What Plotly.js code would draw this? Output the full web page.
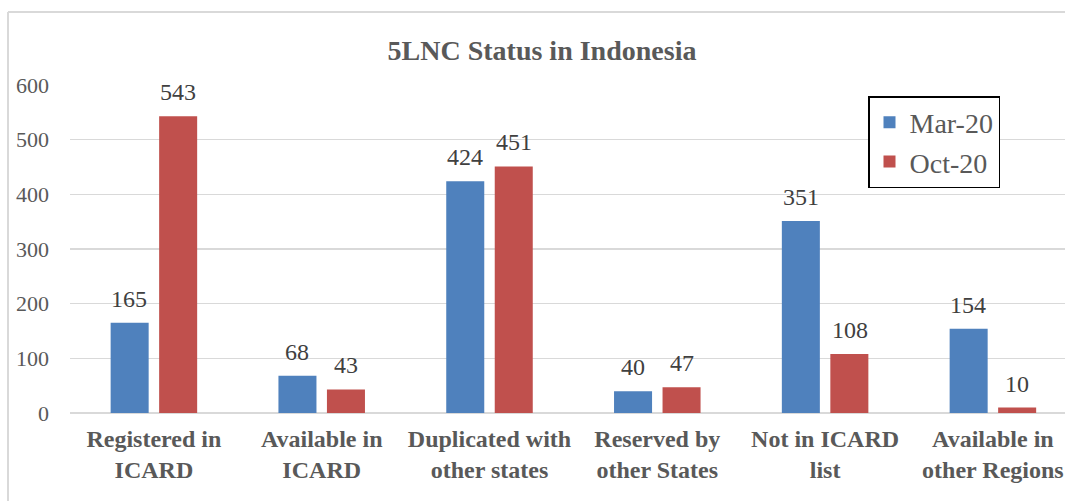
<!DOCTYPE html>
<html>
<head>
<meta charset="utf-8">
<script src="https://cdn.plot.ly/plotly-3.0.1.min.js"></script>
<style>
  html, body { margin: 0; padding: 0; background: #ffffff; }
  #chart { width: 1065px; height: 501px; }
</style>
</head>
<body>
<div id="chart"></div>
<script>
const categories = [
  "Registered in<br>ICARD",
  "Available in<br>ICARD",
  "Duplicated with<br>other states",
  "Reserved by<br>other States",
  "Not in ICARD<br>list",
  "Available in<br>other Regions"
];
const seriesNames = ["Mar-20", "Oct-20"];
const mar20 = [165, 68, 424, 40, 351, 154];
const oct20 = [543, 43, 451, 47, 108, 10];
const yTicks = [0, 100, 200, 300, 400, 500, 600];

const colors = ["#4F81BD", "#C0504D"];
const serif = "Liberation Serif";
const txtColor = "#595959";

const traces = [mar20, oct20].map((vals, i) => ({
  type: "bar",
  name: seriesNames[i],
  x: categories,
  y: vals,
  marker: { color: colors[i], line: { width: 0 } },
  hoverinfo: "skip"
}));

// data labels placed through the axis scales
const annotations = [];
[mar20, oct20].forEach((vals, i) => {
  vals.forEach((v, j) => {
    annotations.push({
      x: categories[j], y: v, xref: "x", yref: "y",
      text: String(v), showarrow: false,
      xanchor: "center", yanchor: "bottom",
      xshift: i === 0 ? -24.5 : 24.5, yshift: 9,
      font: { family: serif, size: 24, color: "#404040" }
    });
  });
});

const layout = {
  width: 1065, height: 501,
  margin: { l: 70, r: 0, t: 85, b: 88, pad: 0 },
  paper_bgcolor: "#ffffff", plot_bgcolor: "#ffffff",
  title: {
    text: "<b>5LNC Status in Indonesia</b>",
    font: { family: serif, size: 28, color: txtColor },
    xref: "container", yref: "container",
    x: 542 / 1065, y: 1 - 50 / 501, xanchor: "center", yanchor: "middle"
  },
  barmode: "group",
  bargap: 0.422,
  bargroupgap: 0.216,
  xaxis: {
    type: "category",
    range: [-0.5, -0.5 + 995 / 167.8],
    showgrid: false, zeroline: false,
    showline: false,
    ticks: "", ticklen: 0,
    ticklabelstandoff: 9,
    tickfont: { family: serif, size: 24, color: txtColor, weight: "bold" },
    fixedrange: true
  },
  yaxis: {
    range: [0, 600],
    tickvals: yTicks,
    ticktext: yTicks.map(String),
    showgrid: true, gridcolor: "#D9D9D9", gridwidth: 1.3,
    zeroline: true, zerolinecolor: "#D9D9D9", zerolinewidth: 2,
    showline: false, ticks: "",
    ticklabelstandoff: 20,
    tickfont: { family: serif, size: 22, color: txtColor },
    fixedrange: true
  },
  legend: {
    x: (868 - 70) / 995, y: (413 - 96) / 328,
    xanchor: "left", yanchor: "top",
    bgcolor: "#ffffff", bordercolor: "#000000", borderwidth: 1.5,
    font: { family: serif, size: 28, color: txtColor },
    tracegroupgap: 0
  },
  showlegend: true,
  annotations: annotations,
  shapes: [
    { type: "line", xref: "paper", yref: "paper",
      x0: (8 - 70) / 995, x1: (8 - 70) / 995, y0: (413 - 12) / 328, y1: (413 - 520) / 328,
      line: { color: "#D9D9D9", width: 2 } },
    { type: "line", xref: "paper", yref: "paper",
      x0: (8 - 70) / 995, x1: 1.05, y0: (413 - 12) / 328, y1: (413 - 12) / 328,
      line: { color: "#D9D9D9", width: 2 } }
  ]
};

Plotly.newPlot("chart", traces, layout, { displayModeBar: false, staticPlot: true });
</script>
</body>
</html>
